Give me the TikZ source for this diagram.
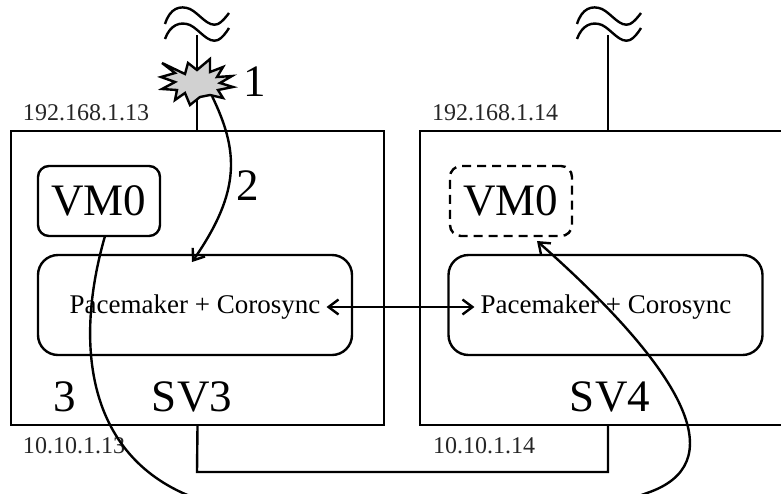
\documentclass[tikz,border=0pt]{standalone}
\usepackage{fontspec}
\setmainfont{Liberation Serif}
\usetikzlibrary{arrows.meta}
\tikzset{
  server/.style={rectangle, draw, line width=2.4pt, minimum height=294pt},
  vmbox/.style={rectangle, rounded corners=11pt, draw, line width=2.4pt, minimum width=122pt, minimum height=70pt, font=\fontsize{45}{45}\selectfont},
  pmbox/.style={rectangle, rounded corners=20pt, draw, line width=2.4pt, minimum width=314pt, minimum height=100pt},
  pmtext/.style={font=\fontsize{27}{27}\selectfont, inner sep=6pt},
  iptext/.style={font=\fontsize{24}{24}\selectfont, text=black!85},
  bigtext/.style={font=\fontsize{45}{45}\selectfont},
  wire/.style={line width=2.4pt},
  move/.style={line width=2.4pt, >={Straight Barb[length=10pt,width=15pt]}},
}
\begin{document}
\begin{tikzpicture}[x=1pt, y=-1pt]
  \useasboundingbox (0,0) rectangle (781,493);
  \clip (0,0) rectangle (781,493);
  % Nodes
  \node[server, minimum width=373pt] (sv3) at (197.5,278) {};
  \node[server, minimum width=376pt] (sv4) at (608,278) {};
  \node[vmbox] (vm3) at (99,201) {VM0};
  \node[vmbox, dash pattern=on 9pt off 6pt] (vm4) at (511,201) {VM0};
  \node[pmbox] (pm3) at (195,305) {};
  \node[pmbox] (pm4) at (605.5,305) {};
  \node[pmtext] (pmtext3) at (195,307) {Pacemaker + Corosync};
  \node[pmtext] (pmtext4) at (606,307) {Pacemaker + Corosync};
  \node[iptext] (ip3) at (86,113) {192.168.1.13};
  \node[iptext] (ip4) at (495,113) {192.168.1.14};
  \node[iptext] (net3) at (74,446) {10.10.1.13};
  \node[iptext] (net4) at (484,446) {10.10.1.14};
  \node[bigtext] (name3) at (192,397) {SV3};
  \node[bigtext] (name4) at (610,397) {SV4};
  \node[bigtext] (step1) at (255,82) {1};
  \node[bigtext] (step2) at (248,186) {2};
  \node[bigtext] (step3) at (65,397) {3};
  \coordinate (ant3) at (197,35);
  \coordinate (ant4) at (608,35);
  \coordinate (burst) at (212,96);
  \coordinate (low3) at (197,472);
  \coordinate (low4) at (608,472);
  \coordinate (vmout) at (105,236);
  \coordinate (vmin) at (537,241);
  % Wires
  \draw[wire] (ant3) -- (ant3 |- sv3.north);
  \draw[wire] (ant4) -- (ant4 |- sv4.north);
  \draw[wire] (sv3.south) -- (low3) -- (low4) -- (sv4.south);
  % Cut marks
  \draw[wire] (165,24) .. controls (170,8) and (180,5) .. (190,9) .. controls (200,14) and (208,28) .. (218,24) .. controls (222,22) and (226,17) .. (229,13);
  \draw[wire] (165,39) .. controls (170,25) and (180,21) .. (190,25) .. controls (200,30) and (208,44) .. (218,40) .. controls (222,38) and (226,33) .. (229,28);
  \draw[wire] (577,24) .. controls (582,8) and (592,5) .. (602,9) .. controls (612,14) and (620,28) .. (630,24) .. controls (634,22) and (638,17) .. (641,13);
  \draw[wire] (577,39) .. controls (582,25) and (592,21) .. (602,25) .. controls (612,30) and (620,44) .. (630,40) .. controls (634,38) and (638,33) .. (641,28);
  % Failure
  \draw[line width=2.4pt, fill=black!18, miter limit=6] (162,63) -- (185,74) -- (188,63) -- (197,70) -- (210,59) -- (210,72) -- (223,67) -- (217,77) -- (232,76) -- (220,83) -- (233,87) -- (218,90) -- (223,98) -- (210,95) -- (200,97) -- (190,105) -- (185,93) -- (175,100) -- (177,90) -- (162,89) -- (175,82) -- (161,77) -- (175,73) -- cycle;
  % Edges
  \draw[move, ->] (burst) .. controls (238,150) and (242,190) .. (192,262);
  \draw[move, <->] (pmtext3) -- (pmtext4);
  \draw[move, ->] (vmout) .. controls (75,340) and (85,450) .. (185,494) .. controls (300,540) and (550,530) .. (647,493) .. controls (730,465) and (692,378) .. (vmin);
\end{tikzpicture}
\end{document}
